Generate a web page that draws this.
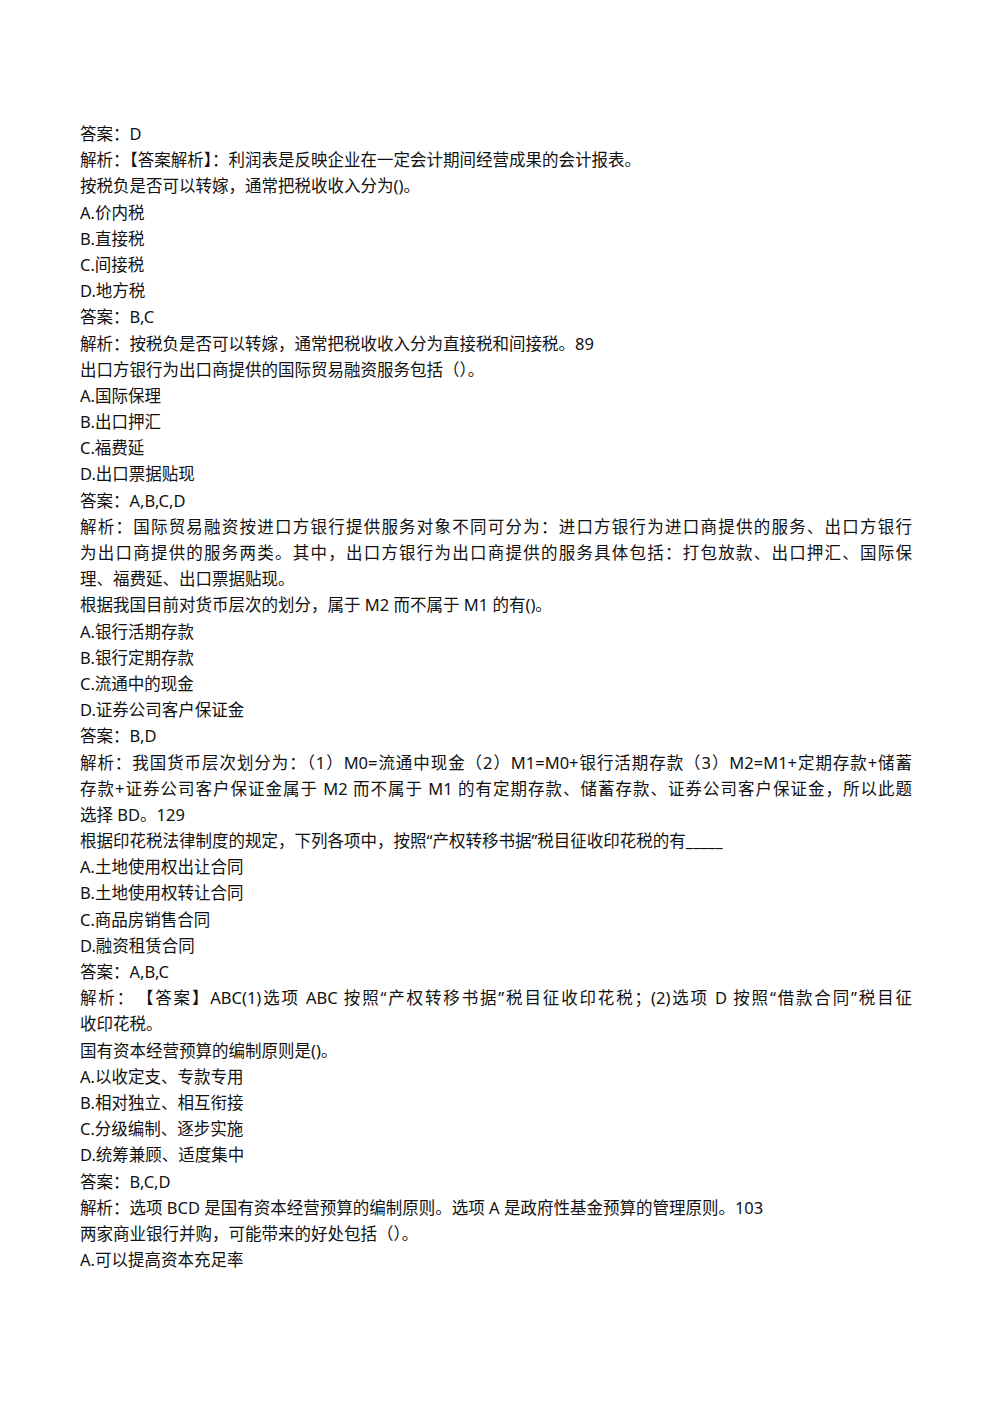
<!DOCTYPE html>
<html>
<head>
<meta charset="utf-8">
<script src="https://cdn.jsdelivr.net/npm/chart.js@4.4.0/dist/chart.umd.min.js"></script>
<style>
  html, body { margin: 0; padding: 0; background: #fff; }
  body { width: 1000px; height: 1414px; position: relative; overflow: hidden;
         font-family: "Noto Sans", "Noto Sans CJK SC", sans-serif; color: #111; }
  #page { position: absolute; left: 80px; top: 121px; width: 832px; }
  .ln { height: 26.2px; line-height: 26.2px; font-size: 16.5px; white-space: nowrap; }
  .full { text-align: justify; text-align-last: justify; }
</style>
</head>
<body>
<div id="page"></div>
<script>
// [text, fullWidth]
const pageLines = [
  ['答案：D', 0],
  ['解析：【答案解析】：利润表是反映企业在一定会计期间经营成果的会计报表。', 0],
  ['按税负是否可以转嫁，通常把税收收入分为()。', 0],
  ['A.价内税', 0],
  ['B.直接税', 0],
  ['C.间接税', 0],
  ['D.地方税', 0],
  ['答案：B,C', 0],
  ['解析：按税负是否可以转嫁，通常把税收收入分为直接税和间接税。89', 0],
  ['出口方银行为出口商提供的国际贸易融资服务包括（）。', 0],
  ['A.国际保理', 0],
  ['B.出口押汇', 0],
  ['C.福费延', 0],
  ['D.出口票据贴现', 0],
  ['答案：A,B,C,D', 0],
  ['解析：国际贸易融资按进口方银行提供服务对象不同可分为：进口方银行为进口商提供的服务、出口方银行', 1],
  ['为出口商提供的服务两类。其中，出口方银行为出口商提供的服务具体包括：打包放款、出口押汇、国际保', 1],
  ['理、福费延、出口票据贴现。', 0],
  ['根据我国目前对货币层次的划分，属于 M2 而不属于 M1 的有()。', 0],
  ['A.银行活期存款', 0],
  ['B.银行定期存款', 0],
  ['C.流通中的现金', 0],
  ['D.证券公司客户保证金', 0],
  ['答案：B,D', 0],
  ['解析：我国货币层次划分为：（1）M0=流通中现金（2）M1=M0+银行活期存款（3）M2=M1+定期存款+储蓄', 1],
  ['存款+证券公司客户保证金属于 M2 而不属于 M1 的有定期存款、储蓄存款、证券公司客户保证金，所以此题', 1],
  ['选择 BD。129', 0],
  ['根据印花税法律制度的规定，下列各项中，按照“产权转移书据”税目征收印花税的有_____', 0],
  ['A.土地使用权出让合同', 0],
  ['B.土地使用权转让合同', 0],
  ['C.商品房销售合同', 0],
  ['D.融资租赁合同', 0],
  ['答案：A,B,C', 0],
  ['解析：　【答案】ABC(1)选项 ABC 按照“产权转移书据”税目征收印花税；(2)选项 D 按照“借款合同”税目征', 1],
  ['收印花税。', 0],
  ['国有资本经营预算的编制原则是()。', 0],
  ['A.以收定支、专款专用', 0],
  ['B.相对独立、相互衔接', 0],
  ['C.分级编制、逐步实施', 0],
  ['D.统筹兼顾、适度集中', 0],
  ['答案：B,C,D', 0],
  ['解析：选项 BCD 是国有资本经营预算的编制原则。选项 A 是政府性基金预算的管理原则。103', 0],
  ['两家商业银行并购，可能带来的好处包括（）。', 0],
  ['A.可以提高资本充足率', 0]
];

const page = document.getElementById('page');
pageLines.forEach(([text, full]) => {
  const div = document.createElement('div');
  div.className = 'ln' + (full ? ' full' : '');
  div.textContent = text;
  page.appendChild(div);
});
</script>
</body>
</html>
